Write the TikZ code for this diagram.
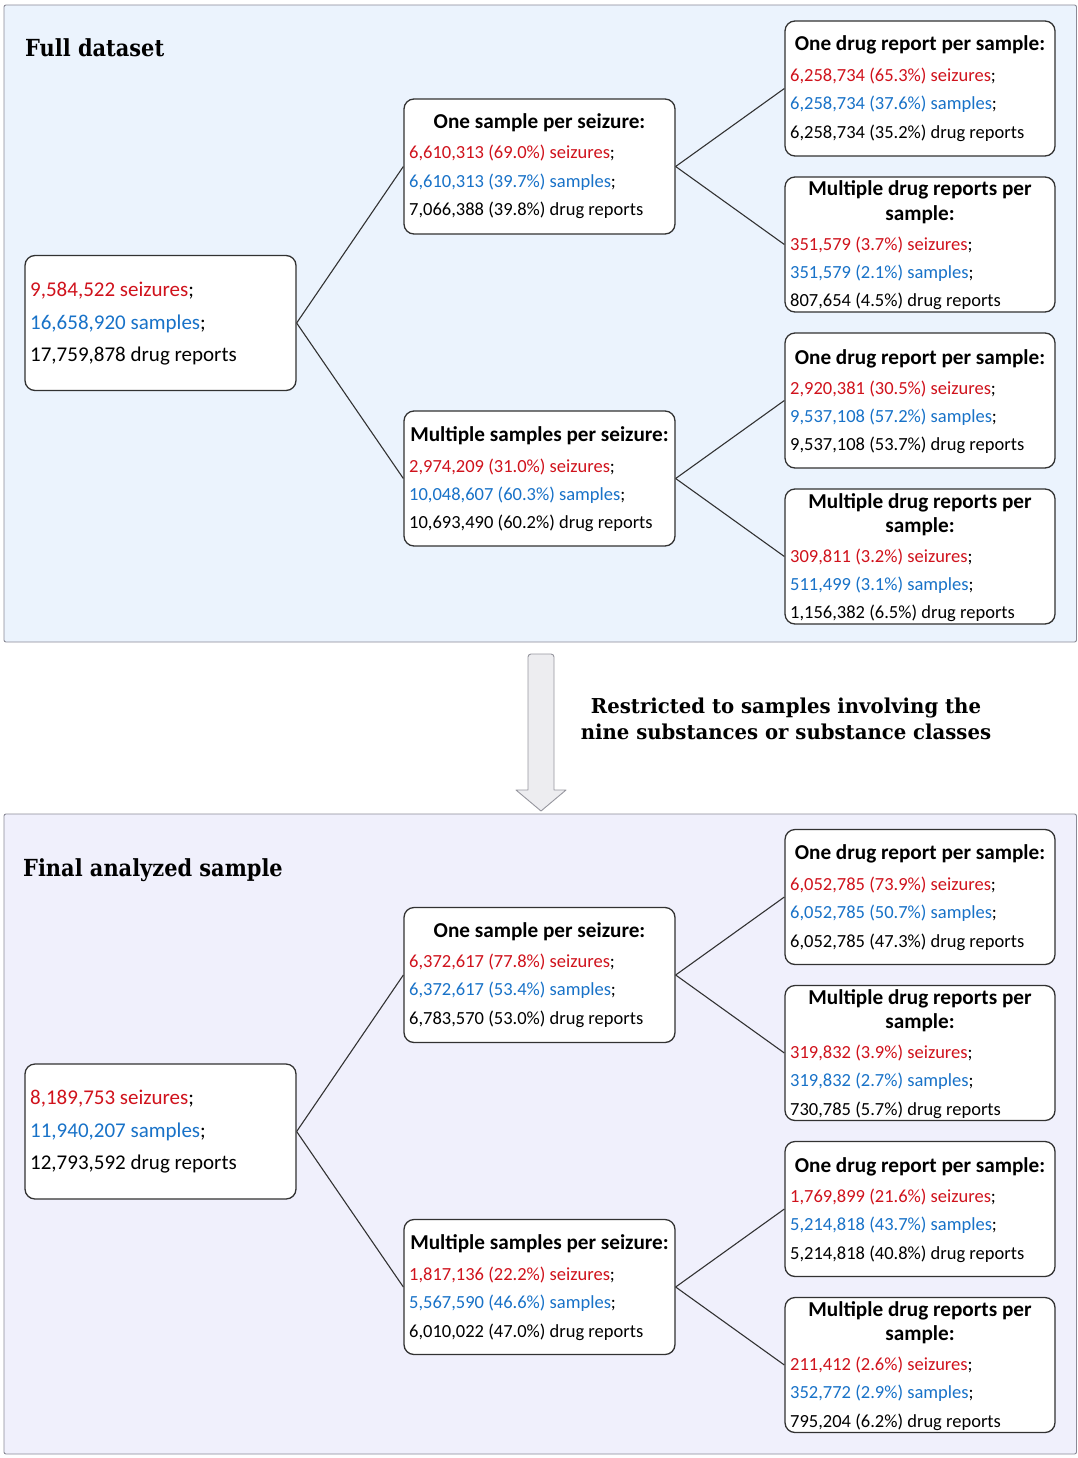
\documentclass[tikz,border=0pt]{standalone}
\usepackage{fontspec}
\setmainfont{Carlito}
\newfontfamily\ttlfont[FakeStretch=0.89]{DejaVu Serif}
\newfontfamily\rstfont[FakeStretch=0.96]{DejaVu Serif}
\definecolor{cred}{RGB}{208,18,28}
\definecolor{cblue}{RGB}{24,114,200}
\definecolor{toppanel}{RGB}{235,243,253}
\definecolor{botpanel}{RGB}{240,240,252}
\definecolor{panelline}{RGB}{138,138,150}
\definecolor{boxline}{RGB}{50,50,50}
\definecolor{arrowfill}{RGB}{237,237,240}
\definecolor{arrowline}{RGB}{150,150,158}
\tikzset{
  panel/.style={draw=panelline, line width=0.9pt, rounded corners=2pt},
  bx/.style={draw=boxline, fill=white, line width=1.3pt, rounded corners=10pt, inner sep=0pt},
  txt/.style={anchor=base west, inner sep=0pt, font=\fontsize{18.5}{22}\selectfont},
  bigtxt/.style={anchor=base west, inner sep=0pt, font=\fontsize{21}{25}\selectfont},
  ttl/.style={anchor=base, inner sep=0pt, font=\fontsize{21.2}{25}\selectfont\bfseries},
  heading/.style={anchor=base west, inner sep=0pt, font=\fontsize{23.5}{28}\selectfont\ttlfont\bfseries},
  link/.style={draw=boxline, line width=1.1pt},
}
% name, x, y(first line centre), red, blue, black
\newcommand\statlines[6]{%
  \node[txt] (#1-a) at (#2,#3+6) {\textcolor{cred}{#4};};
  \node[txt] (#1-b) at (#2,#3+34) {\textcolor{cblue}{#5};};
  \node[txt] (#1-c) at (#2,#3+62.5) {#6};
}
\newcommand\rootlines[5]{%
  \node[bigtxt] (#1-a) at (#2,#3+7) {\textcolor{cred}{#4 seizures};};
  \node[bigtxt] (#1-b) at (#2,#3+40) {\textcolor{cblue}{#5 samples};};
}
\begin{document}
\begin{tikzpicture}[x=1pt,y=-1pt]
\useasboundingbox (0,0) rectangle (1077,1458);
% panels
\path[panel, fill=toppanel] (4,5) rectangle (1076.5,642);
\path[panel, fill=botpanel] (4,814) rectangle (1076.5,1454);
\node[heading] (h1) at (25,57) {Full dataset};
\node[heading] (h2) at (23,876) {Final analyzed sample};
% arrow
\draw[fill=arrowfill, draw=arrowline, line width=0.9pt, line join=round]
  (528,790) -- (528,657) [rounded corners=3pt] -- (528,654) -- (554,654) [sharp corners] -- (554,657) -- (554,790)
  -- (566,790) -- (541,811) -- (516,790) -- cycle;
\node[anchor=base, inner sep=0pt, font=\fontsize{20.5}{26}\selectfont\rstfont\bfseries] (restr1) at (786,713)
  {Restricted to samples involving the};
\node[anchor=base, inner sep=0pt, font=\fontsize{20.5}{26}\selectfont\rstfont\bfseries] (restr2) at (786,739)
  {nine substances or substance classes};

% ---------- top panel ----------
\begin{scope}
\node[bx, minimum width=271pt, minimum height=135pt] (A-root) at (160.5,323) {};
\node[bx, minimum width=271pt, minimum height=135pt] (A-m1) at (539.5,166.5) {};
\node[bx, minimum width=271pt, minimum height=135pt] (A-m2) at (539.5,478.5) {};
\node[bx, minimum width=270pt, minimum height=135pt] (A-r1) at (920,88.5) {};
\node[bx, minimum width=270pt, minimum height=135pt] (A-r2) at (920,244.5) {};
\node[bx, minimum width=270pt, minimum height=135pt] (A-r3) at (920,400.5) {};
\node[bx, minimum width=270pt, minimum height=135pt] (A-r4) at (920,556.5) {};
\draw[link] (A-root.east) -- (A-m1.west);
\draw[link] (A-root.east) -- (A-m2.west);
\draw[link] (A-m1.east) -- (A-r1.west);
\draw[link] (A-m1.east) -- (A-r2.west);
\draw[link] (A-m2.east) -- (A-r3.west);
\draw[link] (A-m2.east) -- (A-r4.west);
\rootlines{A-root}{30}{289}{9,584,522}{16,658,920}
\node[bigtxt] (A-root-c) at (30,361) {17,759,878 drug reports};
\node[ttl] (A-m1-t) at (539.5,129) {One sample per seizure:};
\statlines{A-m1}{409}{153}{6,610,313 (69.0\%) seizures}{6,610,313 (39.7\%) samples}{7,066,388 (39.8\%) drug reports}
\node[ttl] (A-m2-t) at (539.5,441) {Multiple samples per seizure:};
\statlines{A-m2}{409}{466}{2,974,209 (31.0\%) seizures}{10,048,607 (60.3\%) samples}{10,693,490 (60.2\%) drug reports}
\node[ttl] (A-r1-t) at (920,51) {One drug report per sample:};
\statlines{A-r1}{790}{76}{6,258,734 (65.3\%) seizures}{6,258,734 (37.6\%) samples}{6,258,734 (35.2\%) drug reports}
\node[ttl] (A-r2-t) at (920,196) {Multiple drug reports per};
\node[ttl] (A-r2-u) at (920,220) {sample:};
\statlines{A-r2}{790}{244}{351,579 (3.7\%) seizures}{351,579 (2.1\%) samples}{807,654 (4.5\%) drug reports}
\node[ttl] (A-r3-t) at (920,364) {One drug report per sample:};
\statlines{A-r3}{790}{388}{2,920,381 (30.5\%) seizures}{9,537,108 (57.2\%) samples}{9,537,108 (53.7\%) drug reports}
\node[ttl] (A-r4-t) at (920,508) {Multiple drug reports per};
\node[ttl] (A-r4-u) at (920,532) {sample:};
\statlines{A-r4}{790}{556}{309,811 (3.2\%) seizures}{511,499 (3.1\%) samples}{1,156,382 (6.5\%) drug reports}
\end{scope}

% ---------- bottom panel ----------
\begin{scope}[shift={(0,808.5)}]
\node[bx, minimum width=271pt, minimum height=135pt] (B-root) at (160.5,323) {};
\node[bx, minimum width=271pt, minimum height=135pt] (B-m1) at (539.5,166.5) {};
\node[bx, minimum width=271pt, minimum height=135pt] (B-m2) at (539.5,478.5) {};
\node[bx, minimum width=270pt, minimum height=135pt] (B-r1) at (920,88.5) {};
\node[bx, minimum width=270pt, minimum height=135pt] (B-r2) at (920,244.5) {};
\node[bx, minimum width=270pt, minimum height=135pt] (B-r3) at (920,400.5) {};
\node[bx, minimum width=270pt, minimum height=135pt] (B-r4) at (920,556.5) {};
\draw[link] (B-root.east) -- (B-m1.west);
\draw[link] (B-root.east) -- (B-m2.west);
\draw[link] (B-m1.east) -- (B-r1.west);
\draw[link] (B-m1.east) -- (B-r2.west);
\draw[link] (B-m2.east) -- (B-r3.west);
\draw[link] (B-m2.east) -- (B-r4.west);
\rootlines{B-root}{30}{289}{8,189,753}{11,940,207}
\node[bigtxt] (B-root-c) at (30,361) {12,793,592 drug reports};
\node[ttl] (B-m1-t) at (539.5,129) {One sample per seizure:};
\statlines{B-m1}{409}{153}{6,372,617 (77.8\%) seizures}{6,372,617 (53.4\%) samples}{6,783,570 (53.0\%) drug reports}
\node[ttl] (B-m2-t) at (539.5,441) {Multiple samples per seizure:};
\statlines{B-m2}{409}{466}{1,817,136 (22.2\%) seizures}{5,567,590 (46.6\%) samples}{6,010,022 (47.0\%) drug reports}
\node[ttl] (B-r1-t) at (920,51) {One drug report per sample:};
\statlines{B-r1}{790}{76}{6,052,785 (73.9\%) seizures}{6,052,785 (50.7\%) samples}{6,052,785 (47.3\%) drug reports}
\node[ttl] (B-r2-t) at (920,196) {Multiple drug reports per};
\node[ttl] (B-r2-u) at (920,220) {sample:};
\statlines{B-r2}{790}{244}{319,832 (3.9\%) seizures}{319,832 (2.7\%) samples}{730,785 (5.7\%) drug reports}
\node[ttl] (B-r3-t) at (920,364) {One drug report per sample:};
\statlines{B-r3}{790}{388}{1,769,899 (21.6\%) seizures}{5,214,818 (43.7\%) samples}{5,214,818 (40.8\%) drug reports}
\node[ttl] (B-r4-t) at (920,508) {Multiple drug reports per};
\node[ttl] (B-r4-u) at (920,532) {sample:};
\statlines{B-r4}{790}{556}{211,412 (2.6\%) seizures}{352,772 (2.9\%) samples}{795,204 (6.2\%) drug reports}
\end{scope}
\end{tikzpicture}
\end{document}
